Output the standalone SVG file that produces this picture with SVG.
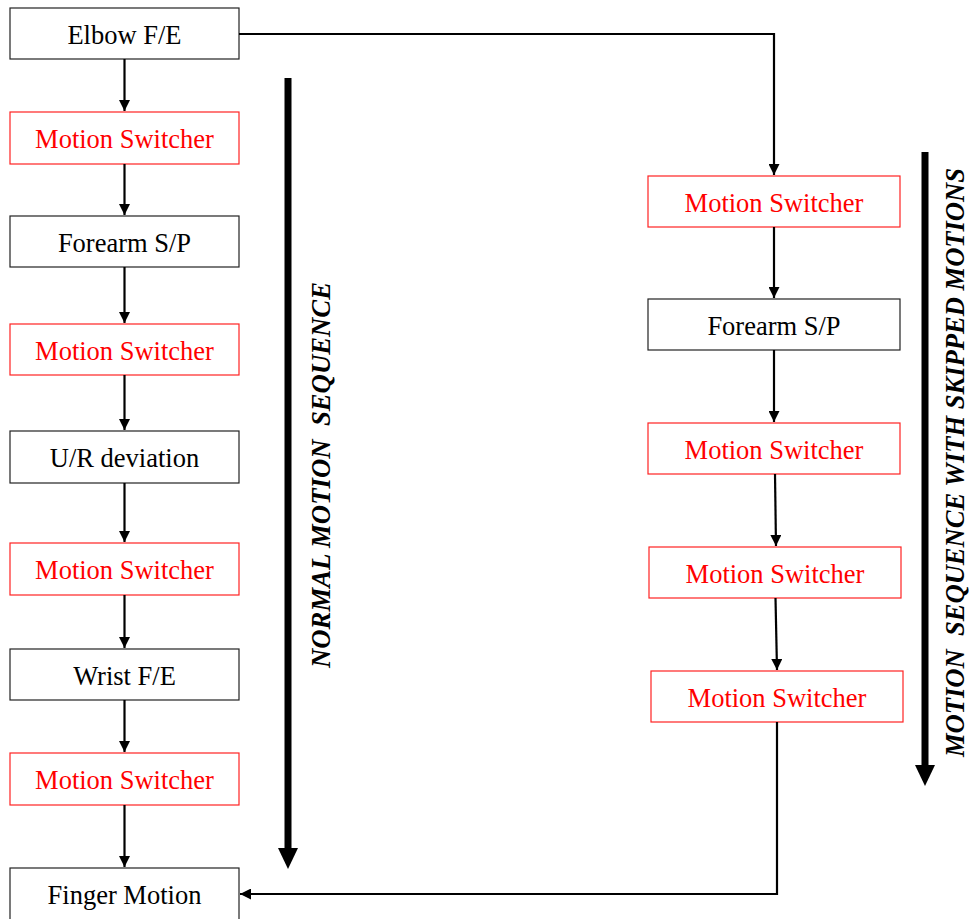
<svg xmlns="http://www.w3.org/2000/svg" width="969" height="919" viewBox="0 0 969 919">
  <style>
    .box { fill: #fff; stroke: #222; stroke-width: 1.2; }
    .sw { fill: #fff; stroke: #f22; stroke-width: 1.2; }
    .lbl { font-family: "Liberation Serif", "Times New Roman", serif; font-size: 26.5px; text-anchor: middle; fill: #000; }
    .red { fill: #f00; }
    .conn { fill: none; stroke: #000; stroke-width: 2.2; }
    .big { fill: none; stroke: #000; stroke-width: 7; }
    .side { font-family: "Liberation Serif", "Times New Roman", serif; font-size: 28px; font-weight: bold; font-style: italic; fill: #000; }
  </style>
  <defs>
    <marker id="ah" viewBox="0 0 10 10" refX="10" refY="5" markerWidth="6.5" markerHeight="5" markerUnits="strokeWidth" orient="auto">
      <path d="M0,0 L10,5 L0,10 Z" fill="#000"/>
    </marker>
  </defs>
  <rect width="969" height="919" fill="#fff"/>

  <!-- left column: normal sequence -->
  <g id="elbow1"><rect class="box" x="10" y="8" width="229" height="51"/><text class="lbl" x="124.5" y="44">Elbow F/E</text></g>
  <g id="switch1"><rect class="sw" x="10" y="112" width="229" height="52"/><text class="lbl red" x="124.5" y="148">Motion Switcher</text></g>
  <g id="forearm1"><rect class="box" x="10" y="216" width="229" height="51"/><text class="lbl" x="124.5" y="252">Forearm S/P</text></g>
  <g id="switch2"><rect class="sw" x="10" y="324" width="229" height="51"/><text class="lbl red" x="124.5" y="360">Motion Switcher</text></g>
  <g id="urdev"><rect class="box" x="10" y="431" width="229" height="52"/><text class="lbl" x="124.5" y="467">U/R deviation</text></g>
  <g id="switch3"><rect class="sw" x="10" y="543" width="229" height="52"/><text class="lbl red" x="124.5" y="579">Motion Switcher</text></g>
  <g id="wrist"><rect class="box" x="10" y="649" width="229" height="51"/><text class="lbl" x="124.5" y="685">Wrist F/E</text></g>
  <g id="switch4"><rect class="sw" x="10" y="753" width="229" height="52"/><text class="lbl red" x="124.5" y="789">Motion Switcher</text></g>
  <g id="finger"><rect class="box" x="10" y="868" width="229" height="60"/><text class="lbl" x="124.5" y="904">Finger Motion</text></g>

  <!-- right column: sequence with skipped motions -->
  <g id="switch5"><rect class="sw" x="648" y="176" width="252" height="51"/><text class="lbl red" x="774" y="212">Motion Switcher</text></g>
  <g id="forearm2"><rect class="box" x="648" y="299" width="252" height="51"/><text class="lbl" x="774" y="335">Forearm S/P</text></g>
  <g id="switch6"><rect class="sw" x="648" y="423" width="252" height="51"/><text class="lbl red" x="774" y="459">Motion Switcher</text></g>
  <g id="switch7"><rect class="sw" x="649" y="547" width="252" height="51"/><text class="lbl red" x="775" y="583">Motion Switcher</text></g>
  <g id="switch8"><rect class="sw" x="651" y="671" width="252" height="51"/><text class="lbl red" x="777" y="707">Motion Switcher</text></g>

  <g id="connectors">
    <line class="conn" x1="124.5" y1="59" x2="124.5" y2="111" marker-end="url(#ah)"/>
    <line class="conn" x1="124.5" y1="164" x2="124.5" y2="215" marker-end="url(#ah)"/>
    <line class="conn" x1="124.5" y1="267" x2="124.5" y2="323" marker-end="url(#ah)"/>
    <line class="conn" x1="124.5" y1="375" x2="124.5" y2="430" marker-end="url(#ah)"/>
    <line class="conn" x1="124.5" y1="483" x2="124.5" y2="542" marker-end="url(#ah)"/>
    <line class="conn" x1="124.5" y1="595" x2="124.5" y2="648" marker-end="url(#ah)"/>
    <line class="conn" x1="124.5" y1="700" x2="124.5" y2="752" marker-end="url(#ah)"/>
    <line class="conn" x1="124.5" y1="805" x2="124.5" y2="867" marker-end="url(#ah)"/>

    <polyline class="conn" points="239,34 774,34 774,175" marker-end="url(#ah)"/>
    <line class="conn" x1="774" y1="227" x2="774" y2="298" marker-end="url(#ah)"/>
    <line class="conn" x1="774" y1="350" x2="774" y2="422" marker-end="url(#ah)"/>
    <line class="conn" x1="775" y1="474" x2="776" y2="546" marker-end="url(#ah)"/>
    <line class="conn" x1="775.5" y1="598" x2="777" y2="670" marker-end="url(#ah)"/>
    <polyline class="conn" points="777,722 777,894 240,894" marker-end="url(#ah)"/>
  </g>

  <!-- sequence direction indicators -->
  <g id="normal-seq">
    <line class="big" x1="288" y1="78" x2="288" y2="850"/>
    <path d="M278,848 L298,848 L288,869 Z" fill="#000"/>
    <text class="side" transform="translate(330,668) rotate(-90)" textLength="386" lengthAdjust="spacingAndGlyphs" xml:space="preserve">NORMAL MOTION  SEQUENCE</text>
  </g>
  <g id="skipped-seq">
    <line class="big" x1="925" y1="152" x2="925" y2="767"/>
    <path d="M915,765 L935,765 L925,786 Z" fill="#000"/>
    <text class="side" transform="translate(964,757) rotate(-90)" textLength="589" lengthAdjust="spacingAndGlyphs" xml:space="preserve">MOTION  SEQUENCE WITH SKIPPED MOTIONS</text>
  </g>
</svg>
